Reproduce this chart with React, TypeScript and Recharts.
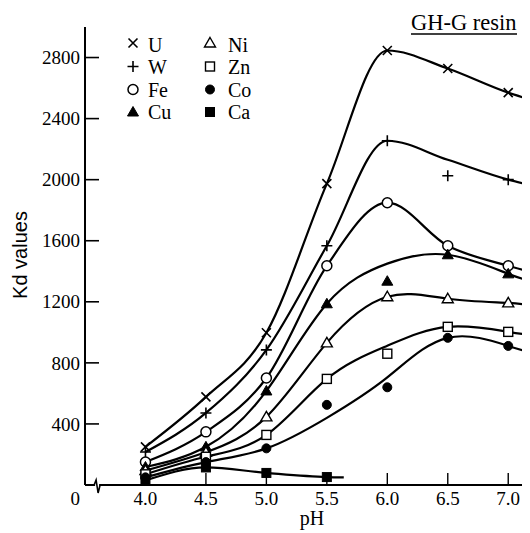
import React from 'react';
import { ComposedChart, Line, Scatter, XAxis, YAxis, ReferenceDot } from 'recharts';

// ---- data ----
const PH = [4.0, 4.5, 5.0, 5.5, 6.0, 6.5, 7.0];
const CURVE_PH = [4.0, 4.5, 5.0, 5.5, 6.0, 6.5, 7.0, 7.18];
const CA_CURVE_PH = [4.0, 4.5, 5.0, 5.5, 5.64];

const U_POINTS = [250, 577, 997, 1974, 2846, 2728, 2570];
const W_POINTS = [216, 472, 885, 1567, 2255, 2026, 2000];
const FE_POINTS = [151, 348, 701, 1436, 1849, 1567, 1436];
const CU_POINTS = [118, 250, 616, 1187, 1335, 1508, 1383];
const NI_POINTS = [95, 215, 446, 931, 1233, 1220, 1193];
const ZN_POINTS = [70, 185, 328, 695, 860, 1036, 1003];
const CO_POINTS = [50, 150, 240, 525, 640, 964, 911];
const CA_POINTS = [30, 115, 79, 52];

const U_CURVE = [250, 577, 997, 1974, 2846, 2728, 2570, 2525];
const W_CURVE = [216, 472, 885, 1567, 2255, 2130, 2000, 1965];
const FE_CURVE = [151, 348, 701, 1436, 1849, 1567, 1436, 1397];
const CU_CURVE = [118, 250, 616, 1187, 1450, 1508, 1383, 1340];
const NI_CURVE = [95, 215, 446, 931, 1233, 1220, 1193, 1174];
const ZN_CURVE = [70, 185, 328, 695, 912, 1036, 1003, 984];
const CO_CURVE = [50, 150, 240, 440, 705, 964, 911, 872];
const CA_CURVE = [30, 115, 79, 52, 50];

const X_TICKS = [4.0, 4.5, 5.0, 5.5, 6.0, 6.5, 7.0];
const Y_TICKS = [0, 400, 800, 1200, 1600, 2000, 2400, 2800];

const NAMES = ['U', 'W', 'Fe', 'Cu', 'Ni', 'Zn', 'Co', 'Ca'];
const KINDS = ['x', 'plus', 'circle', 'tri', 'triOpen', 'sqOpen', 'dot', 'sq'];

const toPts = (xs: number[], ys: number[]) => ys.map((y, i) => ({ x: xs[i], y }));

const SERIES = [
  { name: 'U', kind: 'x', curveType: 'monotone', pts: toPts(PH, U_POINTS), curve: toPts(CURVE_PH, U_CURVE) },
  { name: 'W', kind: 'plus', curveType: 'monotone', pts: toPts(PH, W_POINTS), curve: toPts(CURVE_PH, W_CURVE) },
  { name: 'Fe', kind: 'circle', curveType: 'monotone', pts: toPts(PH, FE_POINTS), curve: toPts(CURVE_PH, FE_CURVE) },
  { name: 'Cu', kind: 'tri', curveType: 'natural', pts: toPts(PH, CU_POINTS), curve: toPts(CURVE_PH, CU_CURVE) },
  { name: 'Ni', kind: 'triOpen', curveType: 'natural', pts: toPts(PH, NI_POINTS), curve: toPts(CURVE_PH, NI_CURVE) },
  { name: 'Zn', kind: 'sqOpen', curveType: 'natural', pts: toPts(PH, ZN_POINTS), curve: toPts(CURVE_PH, ZN_CURVE) },
  { name: 'Co', kind: 'dot', curveType: 'natural', pts: toPts(PH, CO_POINTS), curve: toPts(CURVE_PH, CO_CURVE) },
  { name: 'Ca', kind: 'sq', curveType: 'monotone', pts: toPts(PH, CA_POINTS), curve: toPts(CA_CURVE_PH, CA_CURVE) },
];

const SERIF = '"Liberation Serif", "Times New Roman", serif';
const SANS = '"Liberation Sans", Arial, sans-serif';
const W = 522;
const H = 525;

function Mk({ kind, cx, cy }: { kind: string; cx: number; cy: number }) {
  const s = '#000';
  switch (kind) {
    case 'x':
      return <path d={`M${cx - 4.5},${cy - 4.5}L${cx + 4.5},${cy + 4.5}M${cx - 4.5},${cy + 4.5}L${cx + 4.5},${cy - 4.5}`} stroke={s} strokeWidth={1.6} fill="none" />;
    case 'plus':
      return <path d={`M${cx - 5.5},${cy}L${cx + 5.5},${cy}M${cx},${cy - 5.5}L${cx},${cy + 5.5}`} stroke={s} strokeWidth={1.6} fill="none" />;
    case 'circle':
      return <circle cx={cx} cy={cy} r={5} fill="#fff" stroke={s} strokeWidth={1.5} />;
    case 'tri':
      return <path d={`M${cx},${cy - 5.5}L${cx + 5.5},${cy + 4}L${cx - 5.5},${cy + 4}Z`} fill={s} stroke={s} strokeWidth={1} />;
    case 'triOpen':
      return <path d={`M${cx},${cy - 5.5}L${cx + 5.5},${cy + 4}L${cx - 5.5},${cy + 4}Z`} fill="#fff" stroke={s} strokeWidth={1.4} />;
    case 'sqOpen':
      return <rect x={cx - 4.5} y={cy - 4.5} width={9} height={9} fill="#fff" stroke={s} strokeWidth={1.4} />;
    case 'sq':
      return <rect x={cx - 4.5} y={cy - 4.5} width={9} height={9} fill={s} stroke={s} strokeWidth={1} />;
    case 'dot':
    default:
      return <circle cx={cx} cy={cy} r={4.5} fill={s} stroke={s} strokeWidth={1} />;
  }
}

const YTick = (props: any) => {
  const { x, y, payload } = props;
  const v = payload.value;
  return (
    <g>
      {v !== 0 && <line x1={x + 5} x2={x + 19} y1={y} y2={y} stroke="#000" strokeWidth={1.6} />}
      <text x={x} y={v === 0 ? y + 20 : y} dy={v === 0 ? 0 : '0.35em'} textAnchor="end" fontFamily={SERIF} fontSize={19} fill="#000">
        {v}
      </text>
    </g>
  );
};

const XTick = (props: any) => {
  const { x, y, payload } = props;
  return (
    <g>
      <line x1={x} x2={x} y1={y} y2={y - 12} stroke="#000" strokeWidth={1.4} />
      <text x={x} y={y + 20} textAnchor="middle" fontFamily={SERIF} fontSize={19} fill="#000">
        {Number(payload.value).toFixed(1)}
      </text>
    </g>
  );
};

const AxisBreak = (props: any) => {
  const { cx, cy } = props;
  return (
    <g>
      <rect x={cx - 2} y={cy - 2} width={4} height={4} fill="#fff" />
      <path d={`M${cx - 3},${cy}L${cx - 1},${cy - 5}L${cx + 1},${cy + 8}L${cx + 3},${cy}`} stroke="#000" strokeWidth={1.6} fill="none" />
    </g>
  );
};

const LEGEND_ROWS_MK = [35, 58.5, 81.5, 104];
const LEGEND_ROWS_TX = [44, 66, 89, 111];

export default function App() {
  return (
    <div style={{ position: 'relative', width: W, height: H }}>
      <ComposedChart width={W} height={H} margin={{ top: 19, right: 0, left: 0, bottom: 0 }}>
        <XAxis
          type="number"
          dataKey="x"
          domain={[3.5, 7.18]}
          ticks={X_TICKS}
          allowDataOverflow
          interval={0}
          height={48}
          tickSize={0}
          tickMargin={0}
          tickLine={false}
          tick={<XTick />}
          axisLine={{ stroke: '#000', strokeWidth: 2 }}
        />
        <YAxis
          type="number"
          dataKey="y"
          domain={[0, 3000]}
          ticks={Y_TICKS}
          allowDataOverflow
          interval={0}
          width={77}
          tickSize={0}
          tickMargin={5}
          tickLine={false}
          tick={<YTick />}
          axisLine={{ stroke: '#000', strokeWidth: 2 }}
        />
        {SERIES.map((s) => (
          <Line
            key={'l' + s.name}
            data={s.curve}
            dataKey="y"
            type={s.curveType as any}
            stroke="#000"
            strokeWidth={2.2}
            dot={false}
            activeDot={false}
            isAnimationActive={false}
          />
        ))}
        {SERIES.map((s) => (
          <Scatter
            key={'s' + s.name}
            data={s.pts}
            isAnimationActive={false}
            shape={(p: any) => <Mk kind={s.kind} cx={p.cx} cy={p.cy} />}
          />
        ))}
        <ReferenceDot x={3.6} y={0} ifOverflow="visible" shape={<AxisBreak />} />
      </ComposedChart>
      <svg width={W} height={H} style={{ position: 'absolute', left: 0, top: 0, pointerEvents: 'none' }}>
        <text x={403} y={22} fontFamily={SERIF} fontSize={22.5} fill="#000">GH-G resin</text>
        <line x1={403} x2={509} y1={26} y2={26} stroke="#000" strokeWidth={1.3} />
        {NAMES.map((n, i) => {
          const col = i < 4 ? 0 : 1;
          const row = i % 4;
          const mx = col === 0 ? 125 : 202;
          const tx = col === 0 ? 140 : 220;
          return (
            <g key={n}>
              <Mk kind={KINDS[i]} cx={mx} cy={LEGEND_ROWS_MK[row]} />
              <text x={tx} y={LEGEND_ROWS_TX[row]} fontFamily={SERIF} fontSize={20} fill="#000">{n}</text>
            </g>
          );
        })}
        <text x={19} y={247} transform="rotate(-90, 19, 247)" textAnchor="middle" fontFamily={SANS} fontSize={20} fill="#000">Kd values</text>
        <text x={304} y={517} textAnchor="middle" fontFamily={SERIF} fontSize={20} fill="#000">pH</text>
      </svg>
    </div>
  );
}
